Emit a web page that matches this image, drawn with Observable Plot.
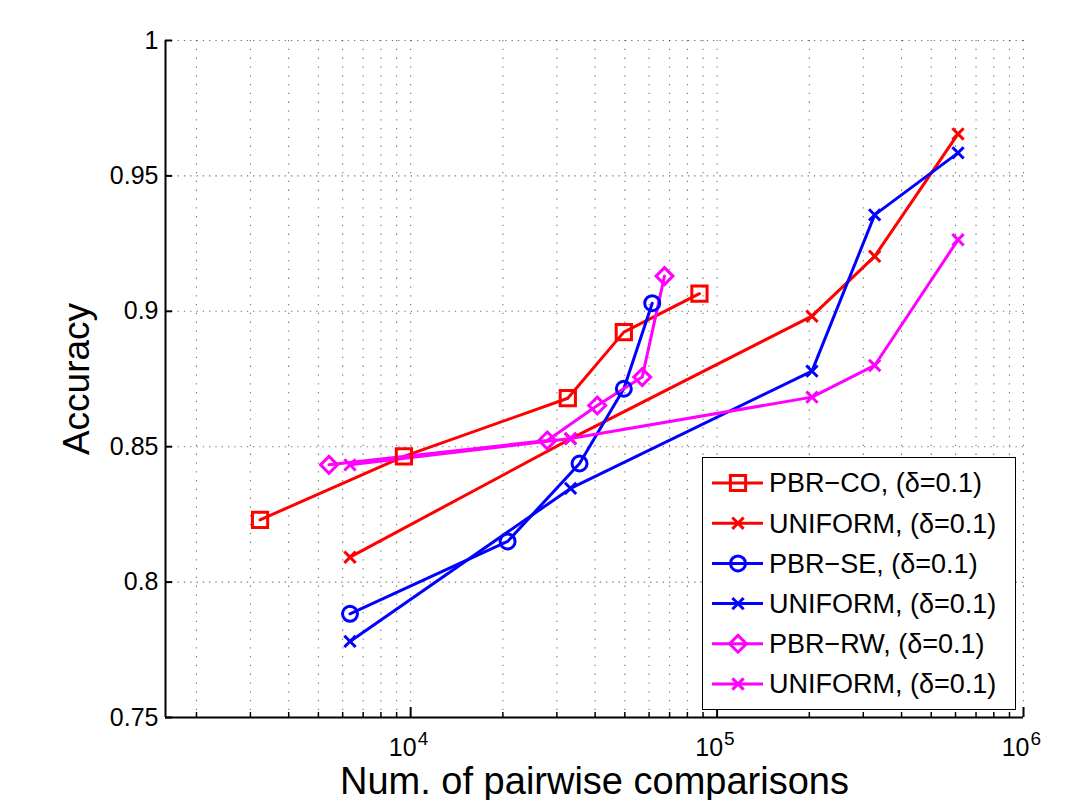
<!DOCTYPE html>
<html><head><meta charset="utf-8">
<script src="https://cdn.jsdelivr.net/npm/d3@7"></script>
<script src="https://cdn.jsdelivr.net/npm/@observablehq/plot@0.6"></script>
<style>
body{margin:0;background:#fff;}
#wrap{position:relative;width:1068px;height:800px;font-family:"Liberation Sans",Arial,sans-serif;}
#legend{position:absolute;left:702px;top:457px;width:314px;height:253px;border:1.3px solid #000;background:#fff;box-sizing:border-box;}
#legend svg{position:absolute;left:0;top:0;}
</style></head><body><div id="wrap"><div id="legend"></div></div>
<script>
// ---- data ----
const pbrCoX = [3225, 9508, 32580, 49630, 87600];
const pbrCoY = [0.823, 0.8464, 0.8679, 0.8923, 0.9065];
const uniformX = [6340, 33250, 204000, 326800, 611400];
const uniformRedY = [0.8092, 0.8529, 0.8982, 0.9203, 0.9655];
const pbrSeX = [6340, 20720, 35580, 49630, 61430];
const pbrSeY = [0.7883, 0.815, 0.8438, 0.8714, 0.903];
const uniformBlueY = [0.7781, 0.8346, 0.8779, 0.9356, 0.9585];
const pbrRwX = [5414, 27920, 40640, 56980, 67360];
const pbrRwY = [0.8433, 0.8523, 0.8652, 0.8757, 0.913];
const uniformMagentaY = [0.8433, 0.853, 0.8683, 0.880, 0.9264];

const seriesNames = ["PBR\u2212CO, (\u03b4=0.1)", "UNIFORM, (\u03b4=0.1)", "PBR\u2212SE, (\u03b4=0.1)", "UNIFORM, (\u03b4=0.1)", "PBR\u2212RW, (\u03b4=0.1)", "UNIFORM, (\u03b4=0.1)"];
const yTicks = [0.75, 0.8, 0.85, 0.9, 0.95, 1];
const xMajor = [1e4, 1e5, 1e6];
const xLabel = "Num. of pairwise comparisons";
const yLabel = "Accuracy";

// ---- build ----
const xDomain = [Math.pow(10, 3.2), 1e6];
const yDomain = [0.75, 1];
const xMinor = [];
for (const d of [1e3, 1e4, 1e5]) for (let k = 2; k <= 9; k++) if (k * d >= xDomain[0]) xMinor.push(k * d);
const xAll = xMinor.concat(xMajor);

const series = [
  {name: seriesNames[0], color: "#ff0000", symbol: "square", r: 8.6, xs: pbrCoX, ys: pbrCoY},
  {name: seriesNames[1], color: "#ff0000", symbol: "times", r: 5.2, xs: uniformX, ys: uniformRedY},
  {name: seriesNames[2], color: "#0000ff", symbol: "circle", r: 7.5, xs: pbrSeX, ys: pbrSeY},
  {name: seriesNames[3], color: "#0000ff", symbol: "times", r: 5.2, xs: uniformX, ys: uniformBlueY},
  {name: seriesNames[4], color: "#ff00ff", symbol: "diamond2", r: 7.6, xs: pbrRwX, ys: pbrRwY},
  {name: seriesNames[5], color: "#ff00ff", symbol: "times", r: 5.2, xs: uniformX, ys: uniformMagentaY}
];
series.forEach(s => s.rows = s.xs.map((x, i) => ({x, y: s.ys[i]})));

const W = 1068, H = 800, mL = 165, mR = 45, mT = 40, mB = 83;
const frameH = H - mT - mB, frameW = W - mL - mR;
const FONT = 25;

const marks = [
  Plot.gridY(yTicks, {stroke: "#000", strokeOpacity: 0.55, strokeWidth: 1.1, strokeDasharray: "1.3,5"}),
  Plot.gridX(xAll, {stroke: "#000", strokeOpacity: 0.55, strokeWidth: 1.1, strokeDasharray: "1.3,7.5"}),
];
for (const s of series) {
  marks.push(Plot.line(s.rows, {x: "x", y: "y", stroke: s.color, strokeWidth: 3}));
}
for (const s of series) {
  marks.push(Plot.dot(s.rows, {x: "x", y: "y", stroke: s.color, fill: "none", strokeWidth: 3, symbol: s.symbol, r: s.r}));
}
marks.push(
  // axis lines
  Plot.ruleY([yDomain[0]], {stroke: "#000", strokeWidth: 2}),
  Plot.ruleX([xDomain[0]], {stroke: "#000", strokeWidth: 2}),
  // inward ticks
  Plot.tickY(yTicks, {y: d => d, stroke: "#000", strokeWidth: 2, insetRight: frameW - 7}),
  Plot.tickX(xMajor, {x: d => d, stroke: "#000", strokeWidth: 2, insetTop: frameH - 10}),
  Plot.tickX(xMinor, {x: d => d, stroke: "#000", strokeWidth: 1.5, insetTop: frameH - 5}),
  // tick labels
  Plot.text(yTicks, {y: d => d, frameAnchor: "left", text: d => String(d), textAnchor: "end", lineAnchor: "middle", dx: -7, fontSize: FONT}),
  Plot.text(xMajor, {x: d => d, frameAnchor: "bottom", text: () => "10", textAnchor: "end", lineAnchor: "middle", dy: 30, dx: 6, fontSize: FONT}),
  Plot.text(xMajor, {x: d => d, frameAnchor: "bottom", text: d => String(Math.round(Math.log10(d))), textAnchor: "start", lineAnchor: "middle", dx: 7, dy: 21, fontSize: 19}),
  // axis titles
  Plot.text([yLabel], {frameAnchor: "left", text: d => d, rotate: -90, textAnchor: "middle", lineAnchor: "middle", dx: -88, fontSize: 37}),
  Plot.text([xLabel], {frameAnchor: "bottom", text: d => d, textAnchor: "middle", lineAnchor: "middle", dy: 64, fontSize: 38})
);

const chart = Plot.plot({
  width: W, height: H,
  marginLeft: mL, marginRight: mR, marginTop: mT, marginBottom: mB,
  style: {fontFamily: '"Liberation Sans", Arial, sans-serif', background: "white", color: "black", overflow: "visible"},
  x: {type: "log", domain: xDomain, axis: null},
  y: {domain: yDomain, axis: null},
  marks
});
document.getElementById("wrap").prepend(chart);

// ---- legend ----
const symMap = {square: d3.symbolSquare, times: d3.symbolTimes, circle: d3.symbolCircle, diamond2: d3.symbolDiamond2};
const lg = d3.select("#legend").append("svg").attr("width", 314).attr("height", 253);
series.forEach((s, i) => {
  const cy = 25 + i * 40.2;
  const g = lg.append("g").attr("transform", `translate(0,${cy})`);
  g.append("line").attr("x1", 9).attr("x2", 60).attr("y1", 0).attr("y2", 0).attr("stroke", s.color).attr("stroke-width", 3);
  g.append("path").attr("transform", "translate(35,0)").attr("d", d3.symbol(symMap[s.symbol], Math.PI * s.r * s.r)())
    .attr("fill", "none").attr("stroke", s.color).attr("stroke-width", 3);
  g.append("text").attr("x", 66).attr("y", 0).attr("dy", "0.35em").attr("font-size", 27)
    .attr("font-family", '"Liberation Sans", Arial, sans-serif').text(s.name);
});
</script>
</body></html>
